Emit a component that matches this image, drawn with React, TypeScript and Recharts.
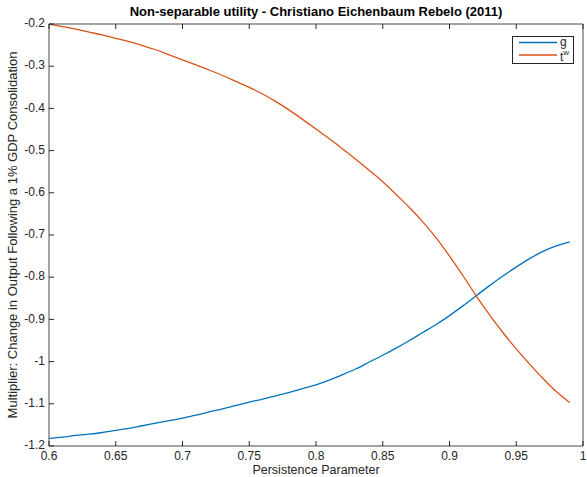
import React from "react";
import { LineChart, Line, XAxis, YAxis } from "recharts";

const persistence = [0.6,0.61,0.62,0.63,0.64,0.65,0.66,0.67,0.68,0.69,0.7,0.71,0.72,0.73,0.74,0.75,0.76,0.77,0.78,0.79,0.8,0.81,0.82,0.83,0.84,0.85,0.86,0.87,0.88,0.89,0.9,0.91,0.92,0.93,0.94,0.95,0.96,0.97,0.98,0.99];
const gValues = [-1.182,-1.179,-1.175,-1.172,-1.168,-1.163,-1.158,-1.152,-1.146,-1.14,-1.134,-1.127,-1.119,-1.112,-1.104,-1.096,-1.089,-1.081,-1.073,-1.064,-1.055,-1.044,-1.031,-1.017,-1.001,-0.985,-0.968,-0.95,-0.931,-0.912,-0.891,-0.868,-0.844,-0.82,-0.797,-0.776,-0.756,-0.739,-0.726,-0.716];
const twValues = [-0.2,-0.206,-0.212,-0.219,-0.226,-0.234,-0.242,-0.251,-0.261,-0.273,-0.285,-0.297,-0.309,-0.322,-0.336,-0.35,-0.366,-0.384,-0.404,-0.426,-0.449,-0.472,-0.496,-0.521,-0.547,-0.574,-0.604,-0.635,-0.669,-0.707,-0.75,-0.796,-0.844,-0.889,-0.931,-0.97,-1.006,-1.04,-1.071,-1.097];
const xTicks = [0.6,0.65,0.7,0.75,0.8,0.85,0.9,0.95,1];
const yTicks = [-1.2,-1.1,-1,-0.9,-0.8,-0.7,-0.6,-0.5,-0.4,-0.3,-0.2];
const seriesNames = ["g", "t"];

const data = persistence.map((p, i) => ({ p, g: gValues[i], tw: twValues[i] }));

const AX = "#262626";
const FRAME = "#4a4a4a";
const BLUE = "#0072BD";
const ORANGE = "#D95319";
const FONT = "'Liberation Sans', Arial, Helvetica, sans-serif";
const TICK_LEN = 5;
const MARGIN = 4;

const BottomTick = (props: any) => {
  const { x, y, payload } = props;
  const ay = y - MARGIN;
  return (
    <g>
      <line x1={x} x2={x} y1={ay} y2={ay - TICK_LEN} stroke={AX} strokeWidth={1} />
      <text x={x} y={ay + 5.5} dy="0.71em" textAnchor="middle" fill={AX} fontSize={12} fontFamily={FONT}>
        {String(payload.value)}
      </text>
    </g>
  );
};
const TopTick = (props: any) => {
  const { x, y } = props;
  const ay = y + MARGIN;
  return <line x1={x} x2={x} y1={ay} y2={ay + TICK_LEN} stroke={AX} strokeWidth={1} />;
};
const LeftTick = (props: any) => {
  const { x, y, payload } = props;
  const ax = x + MARGIN;
  return (
    <g>
      <line x1={ax} x2={ax + TICK_LEN} y1={y} y2={y} stroke={AX} strokeWidth={1} />
      <text x={ax - 4} y={y} dy="0.27em" textAnchor="end" fill={AX} fontSize={12} fontFamily={FONT}>
        {String(payload.value)}
      </text>
    </g>
  );
};
const RightTick = (props: any) => {
  const { x, y } = props;
  const ax = x - MARGIN;
  return <line x1={ax} x2={ax - TICK_LEN} y1={y} y2={y} stroke={AX} strokeWidth={1} />;
};

export default function App() {
  return (
    <div style={{ position: "absolute", left: 0, top: 0, width: 587, height: 477, background: "#fff" }}>
      <LineChart width={587} height={477} data={data} margin={{ top: 23, right: 3, bottom: 30, left: 48 }}>
        <XAxis
          dataKey="p"
          type="number"
          domain={[0.6, 1]}
          ticks={xTicks}
          height={1}
          tickSize={0}
          tickMargin={MARGIN}
          tick={<BottomTick />}
          axisLine={{ stroke: FRAME, strokeWidth: 1 }}
          allowDataOverflow
        />
        <XAxis
          xAxisId="top"
          orientation="top"
          dataKey="p"
          type="number"
          domain={[0.6, 1]}
          ticks={xTicks}
          height={1}
          tickSize={0}
          tickMargin={MARGIN}
          tick={<TopTick />}
          axisLine={{ stroke: FRAME, strokeWidth: 1 }}
        />
        <YAxis
          type="number"
          domain={[-1.2, -0.2]}
          ticks={yTicks}
          width={1}
          tickSize={0}
          tickMargin={MARGIN}
          tick={<LeftTick />}
          axisLine={{ stroke: FRAME, strokeWidth: 1 }}
          allowDataOverflow
        />
        <YAxis
          yAxisId="right"
          orientation="right"
          type="number"
          domain={[-1.2, -0.2]}
          ticks={yTicks}
          width={1}
          tickSize={0}
          tickMargin={MARGIN}
          tick={<RightTick />}
          axisLine={{ stroke: FRAME, strokeWidth: 1 }}
        />
        <Line type="monotone" dataKey="g" name="g" stroke={BLUE} strokeWidth={1.3} dot={false} isAnimationActive={false} />
        <Line type="monotone" dataKey="tw" name="tw" stroke={ORANGE} strokeWidth={1.3} dot={false} isAnimationActive={false} />
        <g>
          <rect x={512.5} y={36.5} width={61} height={27} fill="#fff" stroke={AX} strokeWidth={1} />
          <line x1={519} x2={557} y1={42.5} y2={42.5} stroke={BLUE} strokeWidth={1.3} />
          <line x1={519} x2={557} y1={55} y2={55} stroke={ORANGE} strokeWidth={1.3} />
          <text x={560} y={46} fontFamily={FONT} fontSize={12} fill={AX}>{seriesNames[0]}</text>
          <text x={560} y={61} fontFamily={FONT} fontSize={12} fill={AX}>
            {seriesNames[1]}
            <tspan fontSize={8} dy={-6}>w</tspan>
          </text>
        </g>
        <text x={316} y={13} textAnchor="middle" dominantBaseline="middle" fontFamily={FONT} fontWeight="bold" fontSize={13} fill="#000">
          Non-separable utility - Christiano Eichenbaum Rebelo (2011)
        </text>
        <text x={316} y={474} textAnchor="middle" fontFamily={FONT} fontSize={12.5} fill={AX}>
          Persistence Parameter
        </text>
        <text
          x={14}
          y={235}
          transform="rotate(-90 14 235)"
          textAnchor="middle"
          dominantBaseline="middle"
          fontFamily={FONT}
          fontSize={13}
          fill={AX}
        >
          Multiplier: Change in Output Following a 1% GDP Consolidation
        </text>
      </LineChart>
    </div>
  );
}
